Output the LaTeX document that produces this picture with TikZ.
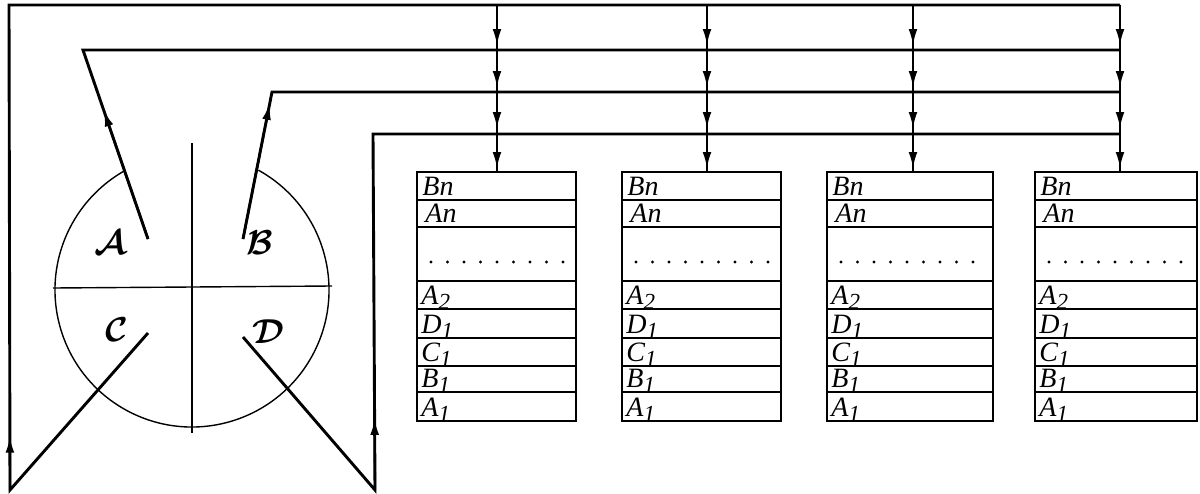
\documentclass[tikz,border=0pt]{standalone}
\usepackage{fontspec}
\setmainfont{Liberation Serif}
\usepackage{bm}
\usetikzlibrary{arrows.meta,calc}

\newcommand\lowidx[1]{\raisebox{-2.6pt}{\fontsize{11.5}{12}\selectfont #1}}

\tikzset{
  bus/.style={line width=1.45pt, line join=miter},
  lead/.style={line width=1.1pt},
  drop/.style={line width=0.95pt},
  thinline/.style={line width=0.7pt},
  cell/.style={line width=1.3pt},
  tip/.style={-{Latex[length=8pt,width=4.4pt]}},
  lbl/.style={anchor=base west, inner sep=0pt, font=\fontsize{14}{14}\selectfont\itshape},
  sector/.style={inner sep=0pt, font=\fontsize{16}{16}\selectfont}
}

\begin{document}
\begin{tikzpicture}[x=0.5pt,y=-0.5pt]
\useasboundingbox (0,0) rectangle (1200,493);

% ---- distributor disc with four sectors
\coordinate (ctr) at (192,290);
\draw[thinline] ($(ctr)+(61:68.5pt)$) arc[start angle=61,end angle=-240,radius=68.5pt];
\draw[thinline] (53,288) -- (332,286);
\draw[thinline] (192,143) -- (192,433);
\node[sector] (sa) at (110,243) {$\bm{\mathcal{A}}$};
\node[sector] (sb) at (260,243) {$\bm{\mathcal{B}}$};
\node[sector] (sc) at (117,330) {$\bm{\mathcal{C}}$};
\node[sector] (sd) at (268,332) {$\bm{\mathcal{D}}$};

% ---- lead-out points and bends
\coordinate (a0) at (148,239); \coordinate (a1) at (83,50);
\coordinate (b0) at (243,239); \coordinate (b1) at (272,92);
\coordinate (c0) at (148,333); \coordinate (c1) at (10,490); \coordinate (c2) at (9,5);
\coordinate (d0) at (243,337); \coordinate (d1) at (375,490); \coordinate (d2) at (373,134);

% ---- columns feeding the four stacks
\foreach \n/\x in {1/497,2/707,3/913,4/1120}{
  \coordinate (k\n) at (\x,5);
  \coordinate (s\n) at (\x,172);
}

% ---- buses
\draw[bus] (c0) -- (c1) -- (c2) -- (k4);
\draw[bus] (a0) -- (a1) -- (1120,50);
\draw[bus] (b0) -- (b1) -- (1120,92);
\draw[bus] (d0) -- (d1) -- (d2) -- (1120,134);

% direction marks on the leads
\draw[lead,tip] (a0) -- ($(a0)!0.68!(a1)$);
\draw[lead,tip] (b0) -- ($(b0)!0.92!(b1)$);
\draw[lead,tip] (c1) -- ($(c1)!0.11!(c2)$);
\draw[lead,tip] (d1) -- ($(d1)!0.2!(d2)$);

% ---- vertical drops with arrows between the buses
\foreach \n/\x in {1/497,2/707,3/913,4/1120}{
  \draw[drop] (k\n) -- (s\n);
  \foreach \y in {45,87,128,168}
    \draw[drop,tip] (\x,\y-20) -- (\x,\y);
}

% ---- memory stacks
\foreach \l/\r in {417/576,622/781,827/993,1035/1197}{
  \foreach \t/\b in {172/200,200/227,227/281,281/309,309/338,338/366,366/392,392/421}
    \draw[cell] (\l,\t) rectangle (\r,\b);
  \node[lbl] at (\l+5,195) {Bn};
  \node[lbl] at (\l+8,222) {An};
  \foreach \k in {0,...,8}
    \fill (\l+14+16.5*\k,262) circle[radius=0.8pt];
  \node[lbl] at (\l+4,304) {A\lowidx{2}};
  \node[lbl] at (\l+4,333) {D\lowidx{1}};
  \node[lbl] at (\l+4,361) {C\lowidx{1}};
  \node[lbl] at (\l+4,387) {B\lowidx{1}};
  \node[lbl] at (\l+4,416) {A\lowidx{1}};
}
\end{tikzpicture}
\end{document}
